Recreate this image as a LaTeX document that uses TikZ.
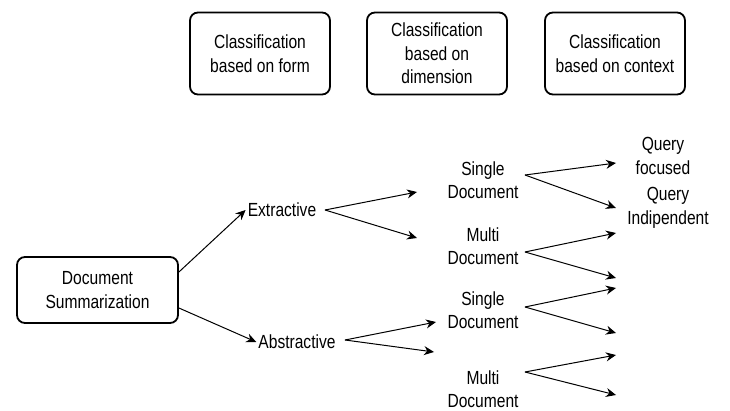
\documentclass[tikz,border=0pt]{standalone}
\usepackage{fontspec}
\setmainfont[FakeStretch=0.82]{Liberation Sans}
\usetikzlibrary{arrows.meta,calc}
\tikzset{
  txt/.style={font=\fontsize{19}{23.5}\selectfont, align=center, inner sep=2pt},
  box/.style={txt, draw, line width=1.8pt, rounded corners=8pt, minimum width=140pt, minimum height=82pt},
  arr/.style={-{Stealth[length=10pt,width=9pt]}, line width=1pt},
}
\begin{document}
\begin{tikzpicture}[x=1pt,y=-1pt]
\useasboundingbox (0,0) rectangle (730,411);
% header boxes
\node[box] (b1) at (260,53.5) {Classification\\based on form};
\node[box] (b2) at (437,53.5) {Classification\\based on\\dimension};
\node[box] (b3) at (615,53.5) {Classification\\based on context};
% root
\node[box, minimum width=161pt, minimum height=66pt] (ds) at (97.5,290) {Document\\Summarization};
% level 1
\node[txt] (ext) at (282,210) {Extractive};
\node[txt] (abs) at (297,342) {Abstractive};
% level 2
\node[txt] (sd1) at (483,180) {Single\\Document};
\node[txt] (md1) at (483,246) {Multi\\Document};
\node[txt] (sd2) at (483,310) {Single\\Document};
\node[txt] (md2) at (483,389) {Multi\\Document};
% level 3
\node[txt] (qf) at (663,156) {Query\\focused};
\node[txt] (qi) at (668,208) {Query\\Indipendent};
% fork points
\coordinate (fext) at (325,210);
\coordinate (fabs) at (345,340);
\coordinate (fsd1) at (525,175);
\coordinate (fmd1) at (525,252);
\coordinate (fsd2) at (525,307);
\coordinate (fmd2) at (525,372);
% arrow targets
\coordinate (tsd1) at (417,192);
\coordinate (tmd1) at (417,238);
\coordinate (tsd2) at (436,322);
\coordinate (tmd2) at (434,352);
\coordinate (tqf) at (616,163);
\coordinate (tqi) at (616,208);
\coordinate (t3) at (616,233);
\coordinate (t4) at (616,278);
\coordinate (t5) at (616,288);
\coordinate (t6) at (616,333);
\coordinate (t7) at (616,355);
\coordinate (t8) at (616,395);
% connectors
\draw[arr] ($(ds.east)+(0,-18)$) -- (ext.west);
\draw[arr] ($(ds.east)+(0,18)$) -- (abs.west);
\draw[arr] (fext) -- (tsd1);
\draw[arr] (fext) -- (tmd1);
\draw[arr] (fabs) -- (tsd2);
\draw[arr] (fabs) -- (tmd2);
\draw[arr] (fsd1) -- (tqf);
\draw[arr] (fsd1) -- (tqi);
\draw[arr] (fmd1) -- (t3);
\draw[arr] (fmd1) -- (t4);
\draw[arr] (fsd2) -- (t5);
\draw[arr] (fsd2) -- (t6);
\draw[arr] (fmd2) -- (t7);
\draw[arr] (fmd2) -- (t8);
\end{tikzpicture}
\end{document}
